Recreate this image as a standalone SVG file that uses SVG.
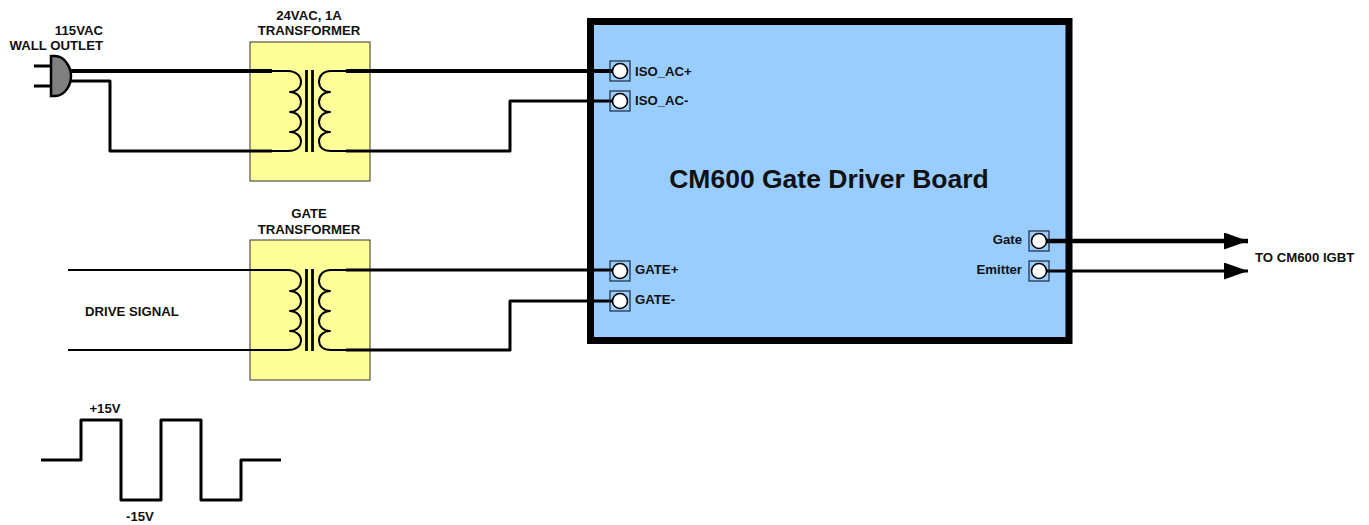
<svg xmlns="http://www.w3.org/2000/svg" width="1369" height="525" viewBox="0 0 1369 525">
<defs>
<style>
text{font-family:"Liberation Sans",Arial,sans-serif;font-weight:700;font-size:13.200px;fill:#111}
.w{fill:none;stroke:#000;stroke-linejoin:round;stroke-linecap:butt}
.t4{stroke-width:4}.t3{stroke-width:3}.t2{stroke-width:2}
.xf{fill:#ffff99;stroke:#333;stroke-width:1}
.pb{fill:none;stroke:#1c2a3a;stroke-width:1.200}
.pc{fill:#fff;stroke:#000;stroke-width:1.600}
</style>
<marker id="ah" markerUnits="userSpaceOnUse" markerWidth="26" markerHeight="18" refX="24" refY="8.500" orient="auto"><path d="M0 0L24 8.500L0 17Z" fill="#000"/></marker>
<g id="coil">
<path class="w t2" d="M272 71H288C296 71 301 76 301 82C301 88 296 92 290 92C296 92 301 96 301 102C301 108 296 112 290 112C296 112 301 116 301 122C301 128 296 132 290 132C296 132 301 136 301 141C301 147 296 151 288 151H272"/>
<path class="w t2" d="M346 71H331C323 71 319 76 319 82C319 88 324 92 330 92C324 92 319 96 319 102C319 108 324 112 330 112C324 112 319 116 319 122C319 128 324 132 330 132C324 132 319 136 319 141C319 147 323 151 331 151H346"/>
<path class="w" stroke-width="2.800" d="M306.500 70V152M312.500 70V152"/>
</g>
</defs>
<g id="board"><rect x="590.500" y="21.500" width="478.500" height="319" fill="#99ccff" stroke="#000" stroke-width="7"/><text x="829" y="188" text-anchor="middle" style="font-size:26.500px">CM600 Gate Driver Board</text></g>
<g id="transformer-ac"><rect class="xf" x="250" y="42" width="120" height="139"/><text x="309" y="20" text-anchor="middle">24VAC, 1A</text><text x="309" y="35" text-anchor="middle">TRANSFORMER</text><use href="#coil"/></g>
<g id="transformer-gate"><rect class="xf" x="250" y="240" width="120" height="140"/><text x="309" y="218" text-anchor="middle">GATE</text><text x="309" y="234" text-anchor="middle">TRANSFORMER</text><use href="#coil" y="199"/></g>
<g id="connectors">
<path class="w t4" d="M70 71H272"/>
<path class="w t3" d="M70 81H110V151H272"/>
<path class="w t4" d="M346 71H612"/>
<path class="w t3" d="M346 151H510V101H612"/>
<path class="w t2" stroke-width="2.500" d="M68 270H272"/>
<path class="w t2" stroke-width="2.500" d="M68 350H272"/>
<path class="w t3" d="M346 270H612"/>
<path class="w t3" d="M346 350H510V301H612"/>
<path class="w" stroke-width="4.500" marker-end="url(#ah)" d="M1046 241H1248"/>
<path class="w t3" marker-end="url(#ah)" d="M1046 271H1248"/>
</g>
<g id="plug"><path class="w t3" d="M34 66H52M34 86H52"/><path d="M51 56H55C65 56 71 68 71 76C71 85 65 96 55 96H51Z" fill="#808080" stroke="#000" stroke-width="2.500"/><text x="103" y="35" text-anchor="end">115VAC</text><text x="103" y="50" text-anchor="end">WALL OUTLET</text></g>
<g id="port-iso-ac-plus"><rect class="pb" x="610" y="61" width="20" height="20"/><circle class="pc" cx="620" cy="71" r="7.500"/><text x="635" y="76">ISO_AC+</text></g>
<g id="port-iso-ac-minus"><rect class="pb" x="610" y="91" width="20" height="20"/><circle class="pc" cx="620" cy="101" r="7.500"/><text x="635" y="105">ISO_AC-</text></g>
<g id="port-gate-plus"><rect class="pb" x="610" y="261" width="20" height="20"/><circle class="pc" cx="620" cy="271" r="7.500"/><text x="635" y="274">GATE+</text></g>
<g id="port-gate-minus"><rect class="pb" x="610" y="291" width="20" height="20"/><circle class="pc" cx="620" cy="301" r="7.500"/><text x="635" y="304">GATE-</text></g>
<g id="port-gate"><rect class="pb" x="1029" y="231" width="20" height="20"/><circle class="pc" cx="1039" cy="241" r="7.500"/><text x="1022" y="244" text-anchor="end">Gate</text></g>
<g id="port-emitter"><rect class="pb" x="1029" y="261" width="20" height="20"/><circle class="pc" cx="1039" cy="271" r="7.500"/><text x="1022" y="274" text-anchor="end">Emitter</text></g>
<text x="1255" y="262">TO CM600 IGBT</text>
<text x="85" y="316">DRIVE SIGNAL</text>
<g id="waveform"><path class="w t3" stroke-linecap="round" d="M41 460H81V420H121V500H161V420H201V500H241V460H281"/><text x="105" y="413" text-anchor="middle">+15V</text><text x="140" y="521" text-anchor="middle">-15V</text></g>
</svg>
